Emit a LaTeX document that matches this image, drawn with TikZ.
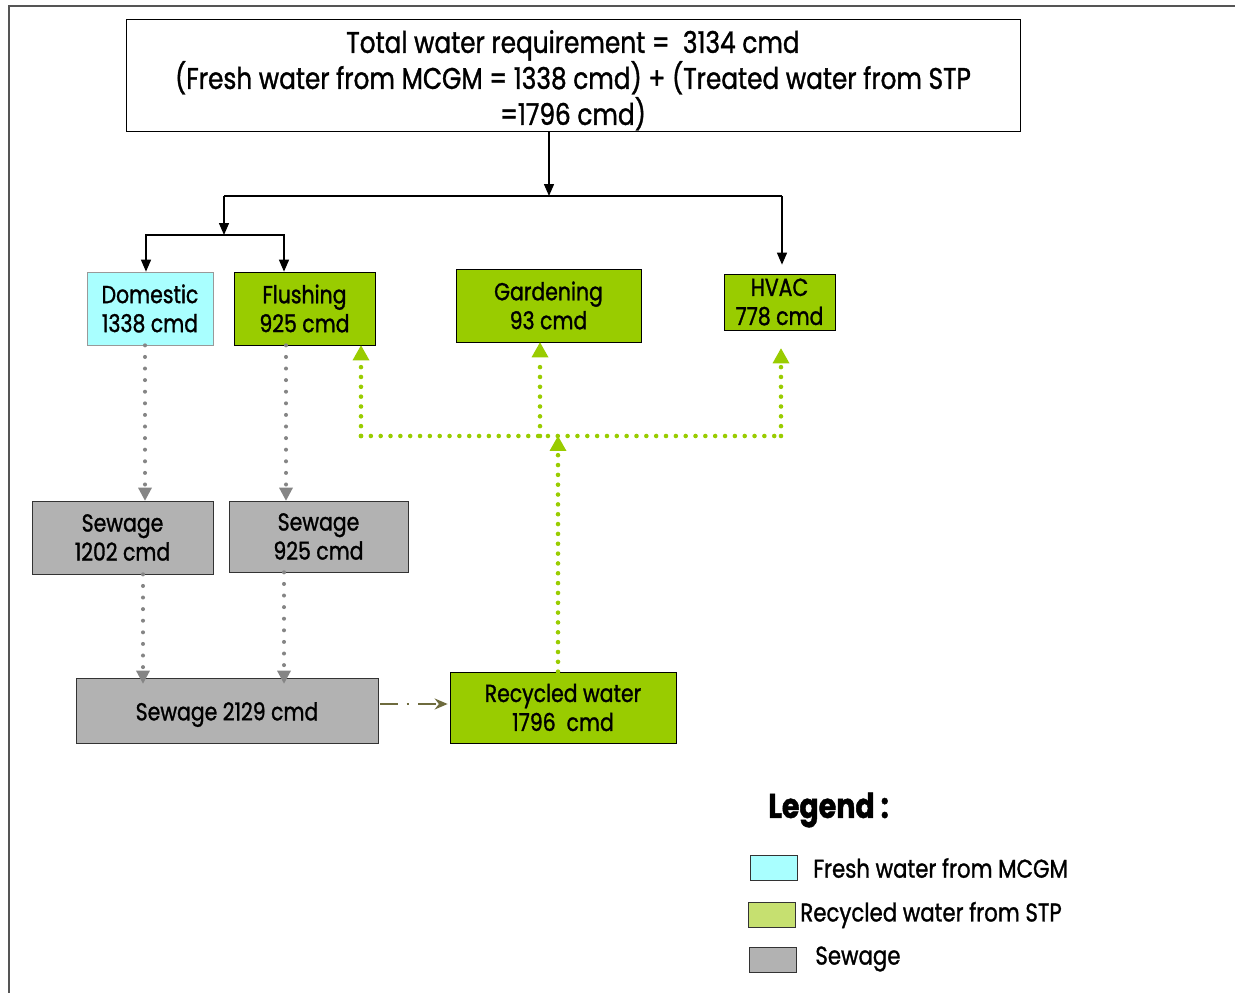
\documentclass[tikz,border=0pt]{standalone}
\usepackage{fontspec}
\setmainfont[FakeStretch=0.83, FakeBold=1.2]{Poppins}
\usetikzlibrary{arrows.meta, positioning}

\definecolor{freshcol}{HTML}{A9FFFF}
\definecolor{stpcol}{HTML}{99CC00}
\definecolor{legstp}{HTML}{C6E070}
\definecolor{sewcol}{HTML}{B2B2B2}
\definecolor{dotgray}{HTML}{858585}
\definecolor{outcol}{HTML}{6E6B3E}
\definecolor{framecol}{HTML}{555555}

\begin{document}
\begin{tikzpicture}[
            x=0.02cm, y=-0.02cm,
            box/.style={draw, rectangle, align=center, inner sep=0pt, font=\fontsize{14}{16.5}\selectfont},
            fresh/.style={box, fill=freshcol, draw=gray!80},
            stp/.style={box, fill=stpcol},
            sewage/.style={box, fill=sewcol, draw=black!80},
            key/.style={draw, rectangle, inner sep=0pt, minimum width=0.94cm, minimum height=0.5cm},
            keytext/.style={anchor=west, inner sep=0pt, font=\fontsize{14.6}{17}\selectfont},
            feed/.style={-{Triangle[width=0.2cm, length=0.24cm]}, black, line width=0.8pt},
            reuse/.style={stpcol, line width=2.6pt, line cap=round, dash pattern=on 0pt off 5.6pt},
            reusetip/.style={reuse, -{Triangle[width=0.34cm, length=0.3cm, fill=stpcol, line width=0pt]}},
            drain/.style={dotgray, line width=2.3pt, line cap=round, dash pattern=on 0pt off 6.6pt, -{Triangle[width=0.28cm, length=0.26cm, line width=0pt]}},
            outflow/.style={outcol, line width=1.4pt, dash pattern=on 10pt off 5pt on 1.5pt off 5pt, -{Stealth[width=0.22cm, length=0.26cm]}}
            ]
            \useasboundingbox (0,0) rectangle (1235,993);
            \draw[framecol, line width=1.3pt] (9,993) -- (9,6) -- (1235,6);

            % total
            \node[box, fill=white, font=\fontsize{17}{20.5}\selectfont, minimum width=17.88cm, minimum height=2.24cm] (total) at (573,75)
                {\rule{0pt}{19pt}Total water requirement =~ 3134 cmd\\(Fresh water from MCGM = 1338 cmd) + (Treated water from STP\\=1796 cmd)};

            % uses
            \node[fresh, minimum width=2.52cm, minimum height=1.46cm] (dom) at (150,308.5) {Domestic\\1338 cmd};
            \node[stp, minimum width=2.82cm, minimum height=1.46cm] (flush) at (304.5,308.5) {Flushing\\925 cmd};
            \node[stp, minimum width=3.7cm, minimum height=1.46cm] (gard) at (548.5,305.5) {Gardening\\93 cmd};
            \node[stp, minimum width=2.22cm, minimum height=1.12cm] (hvac) at (779.5,302) {HVAC\\778 cmd};

            % sewage
            \node[sewage, minimum width=3.62cm, minimum height=1.46cm] (sew1) at (122.5,537.5) {Sewage\\1202 cmd};
            \node[sewage, minimum width=3.58cm, minimum height=1.42cm] (sew2) at (318.5,536.5) {Sewage\\925 cmd};
            \node[sewage, minimum width=6.04cm, minimum height=1.3cm] (sewtot) at (227,710.5) {\rule{0pt}{15pt}Sewage 2129 cmd};
            \node[stp, minimum width=4.52cm, minimum height=1.42cm] (recyc) at (563,707.5) {Recycled water\\1796~ cmd};

            % fresh water split
            \coordinate (hub) at (549,196);
            \coordinate (hubL) at (224,196);
            \coordinate (hubR) at (782,196);
            \coordinate (sub) at (224,235);
            \draw[feed] (total.south -| hub) -- (hub);
            \draw[black, line width=0.8pt] (hubL) -- (hubR);
            \draw[feed, shorten >=0.18cm] (hubR) -- (hubR |- hvac.north);
            \draw[feed] (hubL) -- (sub);
            \draw[feed] (sub) -| ([xshift=-0.08cm]dom.north);
            \draw[feed] (sub) -| ([xshift=-0.41cm]flush.north);

            % recycled water split
            \coordinate (split) at (558,436);
            \coordinate (gL) at (361,436);
            \coordinate (gM) at (540,436);
            \coordinate (gR) at (781,436);
            \draw[reusetip] (recyc.north -| split) -- (split);
            \draw[reuse] (gL) -- (gR);
            \draw[reusetip] (gL) -- (gL |- flush.south);
            \draw[reusetip] (gM) -- (gM |- gard.south);
            \draw[reusetip, shorten >=0.36cm] (gR) -- (gR |- hvac.south);

            % sewage flow
            \draw[drain] ([xshift=-0.1cm]dom.south) -- ([xshift=-0.1cm]dom.south |- sew1.north);
            \draw[drain] ([xshift=-0.37cm]flush.south) -- ([xshift=-0.37cm]flush.south |- sew2.north);
            \draw[drain, shorten >=-0.12cm] ([xshift=0.41cm]sew1.south) -- ([xshift=0.41cm]sew1.south |- sewtot.north);
            \draw[drain, shorten >=-0.12cm] ([xshift=-0.69cm]sew2.south) -- ([xshift=-0.69cm]sew2.south |- sewtot.north);
            \draw[outflow, shorten <=0.04cm, shorten >=0.04cm] ([yshift=0.13cm]sewtot.east) -- ([yshift=0.13cm]sewtot.east -| recyc.west);

            % legend
            \node[anchor=west, inner sep=0pt, font=\bfseries\fontsize{19.5}{22}\selectfont] (legend) at (768,810) {Legend~:};
            \node[key, fill=freshcol, draw=black!80] (kfresh) at (773.5,867.5) {};
            \node[key, fill=legstp, draw=black!80] (kstp) at (772,914.5) {};
            \node[key, fill=sewcol, draw=black!80] (ksew) at (772.5,960) {};
            \node[keytext] (tfresh) at (813,868) {Fresh water from MCGM};
            \node[keytext] (tstp) at (800,915) {Recycled water from STP};
            \node[keytext] (tsew) at (815,959) {Sewage};

        \end{tikzpicture}
\end{document}
